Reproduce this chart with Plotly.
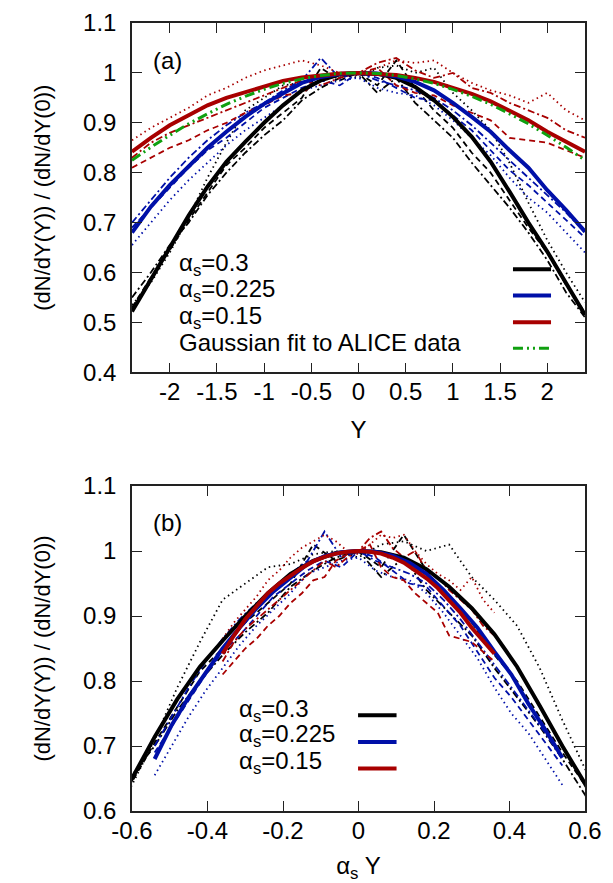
import plotly.graph_objects as go

# rapidity grid shared by all curves
Y = [-2.4, -2.2, -2.0, -1.8, -1.6, -1.4, -1.2, -1.0, -0.8, -0.6, -0.4, -0.2, 0.0,
     0.2, 0.4, 0.6, 0.8, 1.0, 1.2, 1.4, 1.6, 1.8, 2.0, 2.2, 2.4]

ALPHAS = [0.3, 0.225, 0.15]
ALPHA_LABELS = ['α<sub>s</sub>=0.3', 'α<sub>s</sub>=0.225', 'α<sub>s</sub>=0.15']
COLORS = ['#000000', '#0010a8', '#a80000']
GREEN = '#10a010'

# thick solid curves (average)
mean_030 = [0.522, 0.585, 0.650, 0.714, 0.772, 0.822, 0.862, 0.900, 0.935, 0.965, 0.985, 0.997, 1.000,
            0.998, 0.990, 0.972, 0.945, 0.912, 0.872, 0.822, 0.762, 0.700, 0.642, 0.580, 0.515]
mean_0225 = [0.680, 0.732, 0.775, 0.813, 0.850, 0.882, 0.912, 0.938, 0.960, 0.980, 0.992, 0.998, 1.000,
             0.999, 0.993, 0.982, 0.965, 0.940, 0.912, 0.882, 0.845, 0.810, 0.765, 0.725, 0.682]
mean_015 = [0.842, 0.870, 0.895, 0.915, 0.935, 0.950, 0.962, 0.974, 0.984, 0.991, 0.996, 0.999, 1.000,
            0.999, 0.996, 0.990, 0.982, 0.970, 0.958, 0.943, 0.925, 0.905, 0.882, 0.862, 0.842]

# thin curves (individual events): dashed, dash-dot, dotted
dash_030 = [0.530, 0.590, 0.645, 0.705, 0.760, 0.815, 0.850, 0.890, 0.920, 0.950, 1.010, 0.985, 1.000,
            0.975, 1.025, 0.970, 0.925, 0.890, 0.840, 0.800, 0.745, 0.690, 0.640, 0.575, 0.520]
dashdot_030 = [0.550, 0.600, 0.655, 0.700, 0.755, 0.800, 0.840, 0.875, 0.905, 0.945, 0.970, 0.990, 1.000,
               0.960, 0.990, 0.940, 0.905, 0.870, 0.820, 0.775, 0.730, 0.680, 0.625, 0.560, 0.510]
dot_030 = [0.535, 0.580, 0.640, 0.710, 0.790, 0.860, 0.925, 0.950, 0.975, 0.980, 0.995, 1.000, 0.990,
           1.010, 1.015, 1.000, 1.010, 0.960, 0.925, 0.885, 0.820, 0.740, 0.665, 0.600, 0.540]

dash_0225 = [0.690, 0.730, 0.770, 0.810, 0.845, 0.870, 0.900, 0.930, 0.950, 0.970, 0.985, 0.975, 1.000,
             0.990, 0.970, 0.950, 0.945, 0.915, 0.885, 0.845, 0.805, 0.775, 0.740, 0.705, 0.670]
dashdot_0225 = [0.700, 0.745, 0.790, 0.830, 0.865, 0.895, 0.920, 0.940, 0.965, 0.985, 1.030, 0.990, 1.000,
                0.985, 0.975, 0.965, 0.950, 0.925, 0.895, 0.860, 0.825, 0.790, 0.755, 0.720, 0.680]
dot_0225 = [0.655, 0.700, 0.745, 0.785, 0.820, 0.855, 0.885, 0.910, 0.935, 0.965, 0.975, 0.985, 0.990,
            0.970, 0.960, 0.955, 0.935, 0.905, 0.870, 0.835, 0.790, 0.750, 0.720, 0.680, 0.640]

dash_015 = [0.810, 0.830, 0.850, 0.865, 0.885, 0.900, 0.920, 0.935, 0.955, 0.960, 0.985, 0.995, 1.000,
            1.010, 0.975, 0.960, 0.955, 0.935, 0.920, 0.905, 0.870, 0.865, 0.860, 0.845, 0.830]
dashdot_015 = [0.830, 0.860, 0.880, 0.895, 0.910, 0.925, 0.940, 0.955, 0.970, 0.985, 0.975, 0.990, 1.000,
               1.020, 1.030, 1.005, 0.990, 1.000, 0.970, 0.960, 0.940, 0.925, 0.910, 0.885, 0.870]
dot_015 = [0.865, 0.890, 0.910, 0.930, 0.955, 0.970, 0.990, 1.005, 1.015, 1.025, 1.015, 1.000, 0.995,
           1.010, 1.025, 1.020, 1.025, 1.000, 0.980, 0.965, 0.955, 0.940, 0.960, 0.925, 0.905]

# Gaussian fit to ALICE data
gauss_fit = [0.825, 0.851, 0.875, 0.898, 0.918, 0.937, 0.953, 0.967, 0.979, 0.988, 0.995, 0.999, 1.000,
             0.999, 0.995, 0.988, 0.979, 0.967, 0.953, 0.937, 0.918, 0.898, 0.875, 0.851, 0.825]

# tick labels (plain hyphen like the original)
ticks_a_x = [-2, -1.5, -1, -0.5, 0, 0.5, 1, 1.5, 2]
ticks_a_x_text = ['-2', '-1.5', '-1', '-0.5', '0', '0.5', '1', '1.5', '2']
ticks_b_x = [-0.6, -0.4, -0.2, 0, 0.2, 0.4, 0.6]
ticks_b_x_text = ['-0.6', '-0.4', '-0.2', '0', '0.2', '0.4', '0.6']

means = [mean_030, mean_0225, mean_015]
thin = [
    [(dash_030, '6px,4px'), (dashdot_030, '7px,3px,2px,3px'), (dot_030, '1.5px,3.5px')],
    [(dash_0225, '6px,4px'), (dashdot_0225, '7px,3px,2px,3px'), (dot_0225, '1.5px,3.5px')],
    [(dash_015, '6px,4px'), (dashdot_015, '7px,3px,2px,3px'), (dot_015, '1.5px,3.5px')],
]

FONT = 'Liberation Sans, Arial, Helvetica, sans-serif'

fig = go.Figure()

# panel (a): ratio vs Y
for i in range(3):
    for vals, dash in thin[i]:
        fig.add_trace(go.Scatter(x=Y, y=vals, mode='lines', xaxis='x', yaxis='y',
                                 line=dict(color=COLORS[i], width=1.8, dash=dash), showlegend=False))
for i in range(3):
    fig.add_trace(go.Scatter(x=Y, y=means[i], mode='lines', xaxis='x', yaxis='y',
                             line=dict(color=COLORS[i], width=4), showlegend=False))
fig.add_trace(go.Scatter(x=Y, y=gauss_fit, mode='lines', xaxis='x', yaxis='y',
                         line=dict(color=GREEN, width=3, dash='10px,4px,2px,4px,2px,4px'), showlegend=False))

# panel (b): ratio vs alpha_s * Y
for i in range(3):
    xs = [ALPHAS[i] * v for v in Y]
    for vals, dash in thin[i]:
        fig.add_trace(go.Scatter(x=xs, y=vals, mode='lines', xaxis='x2', yaxis='y2',
                                 line=dict(color=COLORS[i], width=1.8, dash=dash), showlegend=False))
for i in range(3):
    xs = [ALPHAS[i] * v for v in Y]
    fig.add_trace(go.Scatter(x=xs, y=means[i], mode='lines', xaxis='x2', yaxis='y2',
                             line=dict(color=COLORS[i], width=4), showlegend=False))

axis_style = dict(showline=True, linecolor='#222', linewidth=1.5, mirror='ticks', ticks='inside',
                  ticklen=10, tickcolor='#222', tickwidth=1, showgrid=False, zeroline=False,
                  automargin=False, tickfont=dict(family=FONT, size=24, color='black'))

ytitle = '(dN/dY(Y)) / (dN/dY(0))'
# page body adds an 8px margin, so the figure is 8px smaller than the window
fig.update_layout(
    width=605, height=875,
    margin=dict(l=124, r=28, t=15, b=72),
    plot_bgcolor='white', paper_bgcolor='white',
    font=dict(family=FONT, size=24, color='black'),
    xaxis=dict(axis_style, domain=[0, 1], range=[-2.4, 2.4], anchor='y', ticklabelstandoff=-3,
               tickvals=ticks_a_x, ticktext=ticks_a_x_text,
               title=dict(text='Y', standoff=17, font=dict(size=24))),
    yaxis=dict(axis_style, domain=[0.5567, 1], range=[0.4, 1.1], anchor='x', dtick=0.1,
               ticklabelstandoff=9,
               title=dict(text=ytitle, standoff=26, font=dict(size=22))),
    xaxis2=dict(axis_style, domain=[0, 1], range=[-0.6, 0.6], anchor='y2', ticklabelstandoff=-3,
                tickvals=ticks_b_x, ticktext=ticks_b_x_text,
                title=dict(text='α<sub>s</sub> Y', standoff=26, font=dict(size=24))),
    yaxis2=dict(axis_style, domain=[0, 0.4124], range=[0.6, 1.1], anchor='x2', dtick=0.1,
                ticklabelstandoff=9,
                title=dict(text=ytitle, standoff=26, font=dict(size=22))),
)

# panel labels
fig.add_annotation(text='(a)', xref='x domain', yref='y domain', x=0.042, y=0.893,
                   xanchor='left', yanchor='middle', showarrow=False, font=dict(size=24))
fig.add_annotation(text='(b)', xref='x2 domain', yref='y2 domain', x=0.042, y=0.888,
                   xanchor='left', yanchor='middle', showarrow=False, font=dict(size=24))

# gnuplot-style keys: text on the left, line sample on the right
key_a_text = [0.308, 0.233, 0.156, 0.084]
key_a_line = [0.295, 0.220, 0.143, 0.069]
for i in range(3):
    fig.add_annotation(text=ALPHA_LABELS[i], xref='x domain', yref='y domain', x=0.1, y=key_a_text[i],
                       xanchor='left', yanchor='middle', showarrow=False, font=dict(size=24))
    fig.add_shape(type='line', xref='x domain', yref='y domain', x0=0.841, x1=0.925,
                  y0=key_a_line[i], y1=key_a_line[i], line=dict(color=COLORS[i], width=4))
fig.add_annotation(text='Gaussian fit to ALICE data', xref='x domain', yref='y domain', x=0.1,
                   y=key_a_text[3], xanchor='left', yanchor='middle', showarrow=False, font=dict(size=24))
fig.add_shape(type='line', xref='x domain', yref='y domain', x0=0.841, x1=0.925,
              y0=key_a_line[3], y1=key_a_line[3],
              line=dict(color=GREEN, width=3, dash='10px,4px,2px,4px,2px,4px'))

key_b_text = [0.31, 0.232, 0.15]
key_b_line = [0.295, 0.212, 0.131]
for i in range(3):
    fig.add_annotation(text=ALPHA_LABELS[i], xref='x2 domain', yref='y2 domain', x=0.232, y=key_b_text[i],
                       xanchor='left', yanchor='middle', showarrow=False, font=dict(size=24))
    fig.add_shape(type='line', xref='x2 domain', yref='y2 domain', x0=0.499, x1=0.584,
                  y0=key_b_line[i], y1=key_b_line[i], line=dict(color=COLORS[i], width=4))

fig.write_html('out.html')
